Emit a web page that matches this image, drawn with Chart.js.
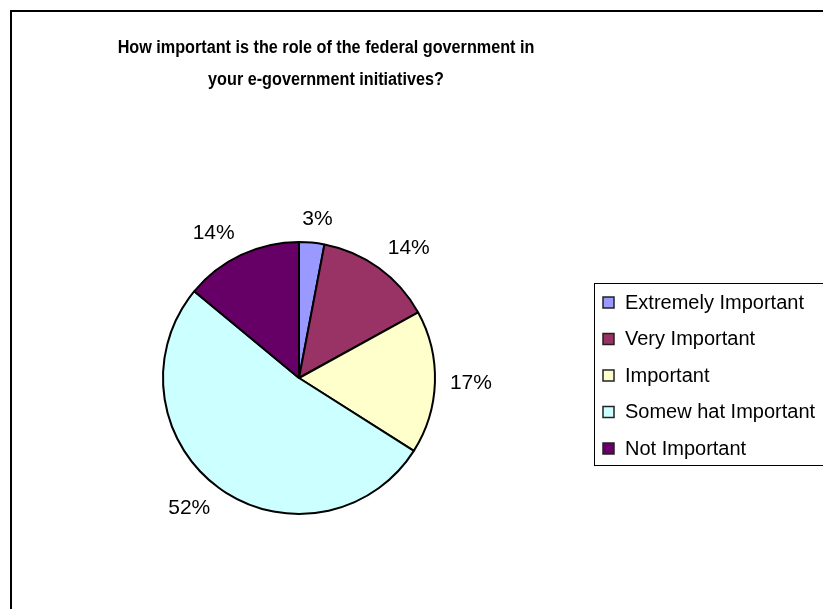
<html lang="en">
<head>
  <meta charset="UTF-8">
  <title>Role of the federal government</title>
  <script src="https://cdn.jsdelivr.net/npm/chart.js"></script>
  <style>
    body { margin: 0; background: white; }
    #pieChart { display: block; }
  </style>
</head>
<body>
  <canvas id="pieChart" width="823" height="609"></canvas>

  <script>
    const titleLines = ['How important is the role of the federal government in', 'your e-government initiatives?'];
    const categories = ['Extremely Important', 'Very Important', 'Important', 'Somew hat Important', 'Not Important'];
    const percents = [3, 14, 17, 52, 14];
    const sliceColors = ['#9999FF', '#993366', '#FFFFCC', '#CCFFFF', '#660066'];

    const FONT = '"Liberation Sans", Arial, sans-serif';

    // outer frame, title and legend box
    const decorations = {
      id: 'decorations',
      beforeDraw(chart) {
        const ctx = chart.ctx;
        ctx.save();
        ctx.fillStyle = '#fff';
        ctx.fillRect(0, 0, chart.width, chart.height);
        ctx.strokeStyle = '#000';
        ctx.lineWidth = 2;
        ctx.strokeRect(11, 11, chart.width + 20, chart.height + 20);

        // title, slightly condensed
        ctx.fillStyle = '#000';
        ctx.font = 'bold 18px ' + FONT;
        ctx.textAlign = 'center';
        ctx.textBaseline = 'middle';
        titleLines.forEach((line, i) => {
          ctx.save();
          ctx.translate(326, 48 + i * 32);
          ctx.scale(0.9, 1);
          ctx.fillText(line, 0, 0);
          ctx.restore();
        });
        ctx.restore();
      },
      afterDraw(chart) {
        const ctx = chart.ctx;
        const labels = chart.data.labels;
        const colors = chart.data.datasets[0].backgroundColor;
        ctx.save();
        ctx.strokeStyle = '#000';
        ctx.lineWidth = 1;
        ctx.strokeRect(594.5, 283.5, 240, 182);
        ctx.font = '20px ' + FONT;
        ctx.textBaseline = 'middle';
        ctx.textAlign = 'left';
        labels.forEach((name, i) => {
          const y = 302 + i * 36.5;
          ctx.fillStyle = colors[i];
          ctx.fillRect(603, y - 5, 11, 11);
          ctx.lineWidth = 1.5;
          ctx.strokeStyle = '#222';
          ctx.strokeRect(603, y - 5, 11, 11);
          ctx.fillStyle = '#000';
          ctx.fillText(name, 625, y + 1);
        });
        ctx.restore();
      }
    };

    // percentage labels outside each slice; the text box corner sits on a ring around the pie
    const sliceLabels = {
      id: 'sliceLabels',
      afterDatasetsDraw(chart) {
        const ctx = chart.ctx;
        const meta = chart.getDatasetMeta(0);
        const values = chart.data.datasets[0].data;
        const clamp = v => Math.max(-1, Math.min(1, v));
        ctx.save();
        ctx.font = '21px ' + FONT;
        ctx.fillStyle = '#000';
        ctx.textAlign = 'center';
        ctx.textBaseline = 'middle';
        meta.data.forEach((arc, i) => {
          const p = arc.getProps(['x', 'y', 'startAngle', 'endAngle', 'outerRadius'], true);
          const mid = (p.startAngle + p.endAngle) / 2;
          const dx = Math.cos(mid), dy = Math.sin(mid);
          const text = values[i] + '%';
          const hw = ctx.measureText(text).width / 2, hh = 8;
          const d = p.outerRadius + 15;
          const tx = p.x + dx * d + clamp(dx * 3) * hw;
          const ty = p.y + dy * d + clamp(dy * 3) * hh;
          ctx.fillText(text, tx, ty);
        });
        ctx.restore();
      }
    };

    new Chart(document.getElementById('pieChart'), {
      type: 'pie',
      data: {
        labels: categories,
        datasets: [{
          data: percents,
          backgroundColor: sliceColors,
          borderColor: '#000',
          borderWidth: 2,
          hoverOffset: 0,
          radius: 136
        }]
      },
      options: {
        responsive: false,
        animation: false,
        events: [],
        layout: { padding: { left: 162, right: 387, top: 241, bottom: 94 } },
        plugins: {
          legend: { display: false },
          title: { display: false },
          tooltip: { enabled: false }
        }
      },
      plugins: [decorations, sliceLabels]
    });
  </script>
</body>
</html>
